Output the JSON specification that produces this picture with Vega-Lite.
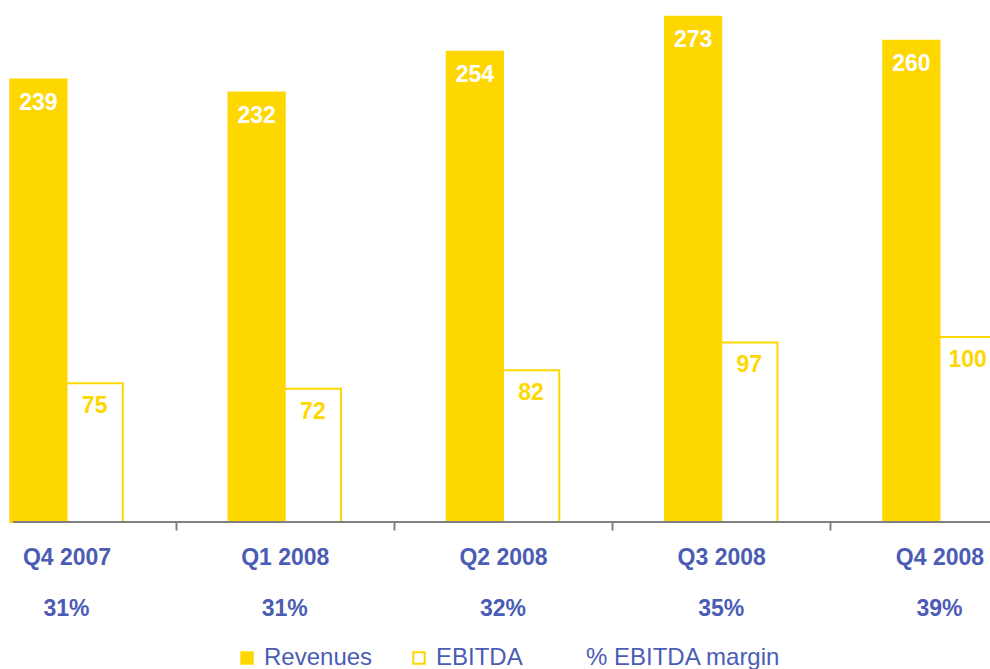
{
  "$schema": "https://vega.github.io/schema/vega-lite/v6.json",
  "width": 977,
  "height": 522,
  "autosize": {"type": "none"},
  "padding": {"left": 13, "top": 0, "right": 0, "bottom": 147},
  "background": "white",
  "config": {"view": {"stroke": null}, "font": "Liberation Sans"},
  "data": {
    "values": [
      {"quarter": "Q4 2007", "series": "Revenues", "value": 239, "margin": "31%"},
      {"quarter": "Q4 2007", "series": "EBITDA", "value": 75, "margin": "31%"},
      {"quarter": "Q1 2008", "series": "Revenues", "value": 232, "margin": "31%"},
      {"quarter": "Q1 2008", "series": "EBITDA", "value": 72, "margin": "31%"},
      {"quarter": "Q2 2008", "series": "Revenues", "value": 254, "margin": "32%"},
      {"quarter": "Q2 2008", "series": "EBITDA", "value": 82, "margin": "32%"},
      {"quarter": "Q3 2008", "series": "Revenues", "value": 273, "margin": "35%"},
      {"quarter": "Q3 2008", "series": "EBITDA", "value": 97, "margin": "35%"},
      {"quarter": "Q4 2008", "series": "Revenues", "value": 260, "margin": "39%"},
      {"quarter": "Q4 2008", "series": "EBITDA", "value": 100, "margin": "39%"}
    ]
  },
  "layer": [
    {
      "mark": {"type": "bar", "strokeWidth": 2},
      "encoding": {
        "x": {
          "field": "quarter",
          "type": "nominal",
          "sort": ["Q4 2007", "Q1 2008", "Q2 2008", "Q3 2008", "Q4 2008"],
          "scale": {"paddingInner": 0, "paddingOuter": 0, "range": [-55.6, 1035.6]},
          "axis": {
            "title": null,
            "labelAngle": 0,
            "domain": false,
            "tickColor": "#808080",
            "tickWidth": 2,
            "tickSize": 8,
            "tickBand": "extent",
            "labelFont": "Liberation Sans",
            "labelFontSize": 23,
            "labelFontWeight": "bold",
            "labelColor": "#4B5CB5",
            "labelPadding": 16,
            "labelOverlap": false
          }
        },
        "xOffset": {
          "field": "series",
          "type": "nominal",
          "sort": ["Revenues", "EBITDA"],
          "scale": {"domain": ["Revenues", "EBITDA"], "paddingInner": 0, "paddingOuter": 0.94}
        },
        "y": {
          "field": "value",
          "type": "quantitative",
          "scale": {"domain": [0, 282], "nice": false},
          "axis": null
        },
        "fill": {
          "field": "series",
          "type": "nominal",
          "scale": {
            "domain": ["Revenues", "EBITDA", "% EBITDA margin"],
            "range": ["#FFD700", "#FFFFFF", "#FFFFFF"]
          },
          "legend": {
            "title": null,
            "orient": "none",
            "direction": "horizontal",
            "legendX": 222,
            "legendY": 646,
            "symbolType": "square",
            "symbolSize": 130,
            "symbolStrokeWidth": 2,
            "labelFont": "Liberation Sans",
            "labelFontSize": 24,
            "labelColor": "#4B5CB5",
            "labelOffset": 5,
            "labelLimit": 300,
            "columnPadding": 34,
            "padding": 0
          }
        },
        "stroke": {
          "field": "series",
          "type": "nominal",
          "scale": {
            "domain": ["Revenues", "EBITDA", "% EBITDA margin"],
            "range": ["#FFD700", "#FFD700", "transparent"]
          },
          "legend": {
            "title": null,
            "orient": "none",
            "direction": "horizontal",
            "legendX": 222,
            "legendY": 646,
            "symbolType": "square",
            "symbolSize": 130,
            "symbolStrokeWidth": 2,
            "labelFont": "Liberation Sans",
            "labelFontSize": 24,
            "labelColor": "#4B5CB5",
            "labelOffset": 5,
            "labelLimit": 300,
            "columnPadding": 34,
            "padding": 0
          }
        }
      }
    },
    {
      "mark": {"type": "rule", "color": "#808080", "strokeWidth": 2},
      "encoding": {
        "y": {"datum": 0, "type": "quantitative"}
      }
    },
    {
      "mark": {"type": "text", "font": "Liberation Sans", "fontSize": 23, "fontWeight": "bold", "baseline": "alphabetic", "align": "center", "dy": 30},
      "encoding": {
        "x": {
          "field": "quarter",
          "type": "nominal",
          "sort": ["Q4 2007", "Q1 2008", "Q2 2008", "Q3 2008", "Q4 2008"]
        },
        "xOffset": {
          "field": "series",
          "type": "nominal",
          "sort": ["Revenues", "EBITDA"],
          "scale": {"domain": ["Revenues", "EBITDA"], "paddingInner": 0, "paddingOuter": 0.94}
        },
        "y": {"field": "value", "type": "quantitative"},
        "text": {"field": "value", "type": "quantitative"},
        "color": {
          "condition": {"test": "datum.series === 'Revenues'", "value": "#FFFFFF"},
          "value": "#FFD700"
        }
      }
    },
    {
      "transform": [{"filter": "datum.series === 'Revenues'"}],
      "mark": {"type": "text", "font": "Liberation Sans", "fontSize": 23, "fontWeight": "bold", "baseline": "alphabetic", "align": "center", "dy": 94, "color": "#4B5CB5"},
      "encoding": {
        "x": {
          "field": "quarter",
          "type": "nominal",
          "sort": ["Q4 2007", "Q1 2008", "Q2 2008", "Q3 2008", "Q4 2008"]
        },
        "y": {"datum": 0, "type": "quantitative"},
        "text": {"field": "margin", "type": "nominal"}
      }
    }
  ]
}
